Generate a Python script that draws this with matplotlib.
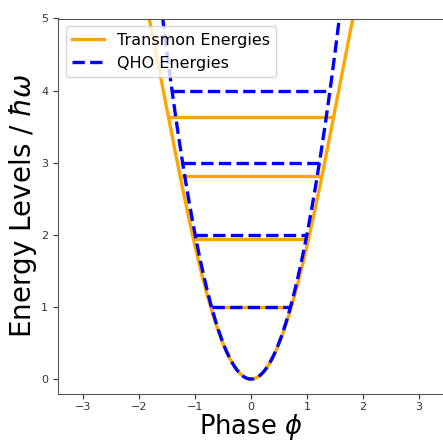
import numpy as np
import matplotlib
matplotlib.use("Agg")
import matplotlib.pyplot as plt

# Potential depth (in units of hbar*omega) and energy levels
EJ_depth = 4.0
transmon_levels = [1.0, 1.94, 2.82, 3.64]
qho_levels = [1.0, 2.0, 3.0, 4.0]
x_ticks = [-3, -2, -1, 0, 1, 2, 3]
y_ticks = [0, 1, 2, 3, 4, 5]

phi = np.linspace(-np.pi, np.pi, 800)
v_transmon = EJ_depth * (1 - np.cos(phi))
v_qho = 0.5 * EJ_depth * phi ** 2

fig = plt.figure(figsize=(4.43, 4.41), dpi=100)
ax = fig.add_axes([58 / 443, 1 - 393.5 / 441, 386 / 443, 375 / 441])

orange = "#FFA500"
blue = "#0000FF"
lw = 2.4

ax.plot(phi, v_transmon, color=orange, lw=lw, label="Transmon Energies")
for e in transmon_levels:
    xt = np.arccos(1 - e / EJ_depth)
    ax.hlines(e, -xt, xt, color=orange, lw=lw)

ax.plot(phi, v_qho, color=blue, lw=lw, ls="--", label="QHO Energies")
for e in qho_levels:
    xq = np.sqrt(2 * e / EJ_depth)
    ax.hlines(e, -xq, xq, color=blue, lw=lw, linestyles="--")

ax.set_ylim(-0.2, 5)
ax.set_xticks(x_ticks)
ax.set_yticks(y_ticks)
ax.tick_params(labelsize=8, colors="#333333")
ax.tick_params(axis="x", pad=2.5)
for s in ax.spines.values():
    s.set_color("#555555")
ax.set_xlabel(r"Phase $\phi$", fontsize=18.5, labelpad=0)
ax.set_ylabel(r"Energy Levels / $\hbar\omega$", fontsize=20, labelpad=1.5)
ax.legend(loc="upper left", fontsize=11.5)

fig.savefig("out.png", dpi=100)
